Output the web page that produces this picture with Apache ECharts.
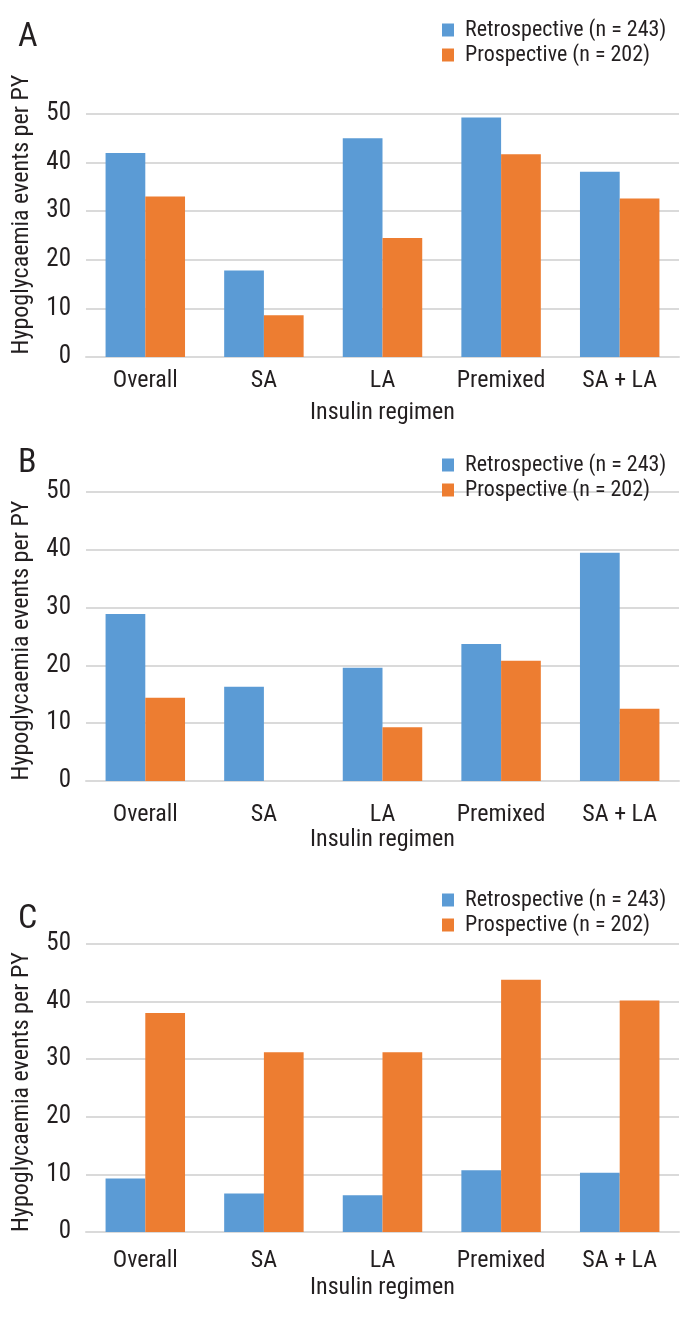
<!DOCTYPE html>
<html>
<head>
<meta charset="utf-8">
<script src="https://cdn.jsdelivr.net/npm/echarts@6/dist/echarts.min.js"></script>
<style>
html,body{margin:0;padding:0;background:#fff;}
#chart{width:696px;height:1323px;}
</style>
</head>
<body>
<div id="chart"></div>
<script>
const categories = ['Overall', 'SA', 'LA', 'Premixed', 'SA + LA'];
const seriesNames = ['Retrospective (n = 243)', 'Prospective (n = 202)'];
const panelLabels = ['A', 'B', 'C'];
const yTicks = [0, 10, 20, 30, 40, 50];
const xAxisTitle = 'Insulin regimen';
const yAxisTitle = 'Hypoglycaemia events per PY';

const retroA = [42.0, 17.8, 45.0, 49.3, 38.1];
const prospA = [33.0, 8.6, 24.5, 41.7, 32.6];
const retroB = [28.9, 16.3, 19.6, 23.7, 39.5];
const prospB = [14.4, 0, 9.3, 20.8, 12.5];
const retroC = [9.3, 6.7, 6.4, 10.7, 10.3];
const prospC = [38.0, 31.2, 31.2, 43.8, 40.2];

const panels = [[retroA, prospA], [retroB, prospB], [retroC, prospC]];

const FONT = "'Liberation Sans Narrow', 'Arial Narrow', 'Roboto Condensed', Roboto, 'Liberation Sans', sans-serif";
const TXT = '#231f20';
const BLUE = '#5b9bd5';
const ORANGE = '#ed7d31';
const GRIDC = '#dadada';

// layout per panel
const layout = [
  {top: 114, bottom: 357, catMargin: 12, legendTop: 19, letterTop: 20, namePad: [0, 0, 0, 42]},
  {top: 492, bottom: 781, catMargin: 22, legendTop: 454, letterTop: 446, namePad: [0, 8, 0, 0]},
  {top: 944, bottom: 1232, catMargin: 17, legendTop: 889, letterTop: 902, namePad: [0, 8, 0, 0]}
];

const chart = echarts.init(document.getElementById('chart'), null, {renderer: 'canvas'});

const grid = [], xAxis = [], yAxis = [], series = [], legend = [], title = [];
layout.forEach((L, i) => {
  grid.push({left: 86, right: 17, top: L.top, height: L.bottom - L.top, containLabel: false});
  xAxis.push({
    type: 'category', gridIndex: i, data: categories,
    name: xAxisTitle, nameLocation: 'middle', nameGap: 44,
    nameTextStyle: {fontFamily: FONT, fontSize: 24, color: TXT},
    axisTick: {show: false},
    axisLine: {show: true, lineStyle: {color: GRIDC, width: 2}},
    axisLabel: {fontFamily: FONT, fontSize: 24, color: TXT, margin: L.catMargin, interval: 0}
  });
  yAxis.push({
    type: 'value', gridIndex: i, min: yTicks[0], max: yTicks[yTicks.length - 1], interval: 10,
    name: yAxisTitle, nameLocation: 'middle', nameGap: 52, nameRotate: 90,
    nameTextStyle: {fontFamily: FONT, fontSize: 24, color: TXT, padding: L.namePad},
    axisLine: {show: false}, axisTick: {show: false},
    splitLine: {lineStyle: {color: GRIDC, width: 2}},
    axisLabel: {fontFamily: FONT, fontSize: 25, color: TXT, margin: 15}
  });
  const [r, p] = panels[i];
  series.push({
    type: 'bar', name: seriesNames[0], xAxisIndex: i, yAxisIndex: i, data: r,
    itemStyle: {color: BLUE}, barGap: '0%', barCategoryGap: '33%', animation: false
  });
  series.push({
    type: 'bar', name: seriesNames[1], xAxisIndex: i, yAxisIndex: i, data: p,
    itemStyle: {color: ORANGE}, barGap: '0%', barCategoryGap: '33%', animation: false
  });
  legend.push({
    data: seriesNames, orient: 'vertical', left: 442, top: L.legendTop,
    icon: 'rect', itemWidth: 12, itemHeight: 13, itemGap: 3, padding: 0,
    selectedMode: false,
    textStyle: {fontFamily: FONT, fontSize: 22, color: TXT, padding: [0, 0, 0, 6]}
  });
  title.push({
    text: panelLabels[i], left: 18, top: L.letterTop, padding: 0,
    textStyle: {fontFamily: FONT, fontSize: 34, fontWeight: 'normal', color: TXT}
  });
});

chart.setOption({
  animation: false,
  backgroundColor: '#ffffff',
  title, grid, xAxis, yAxis, series, legend
});
</script>
</body>
</html>
